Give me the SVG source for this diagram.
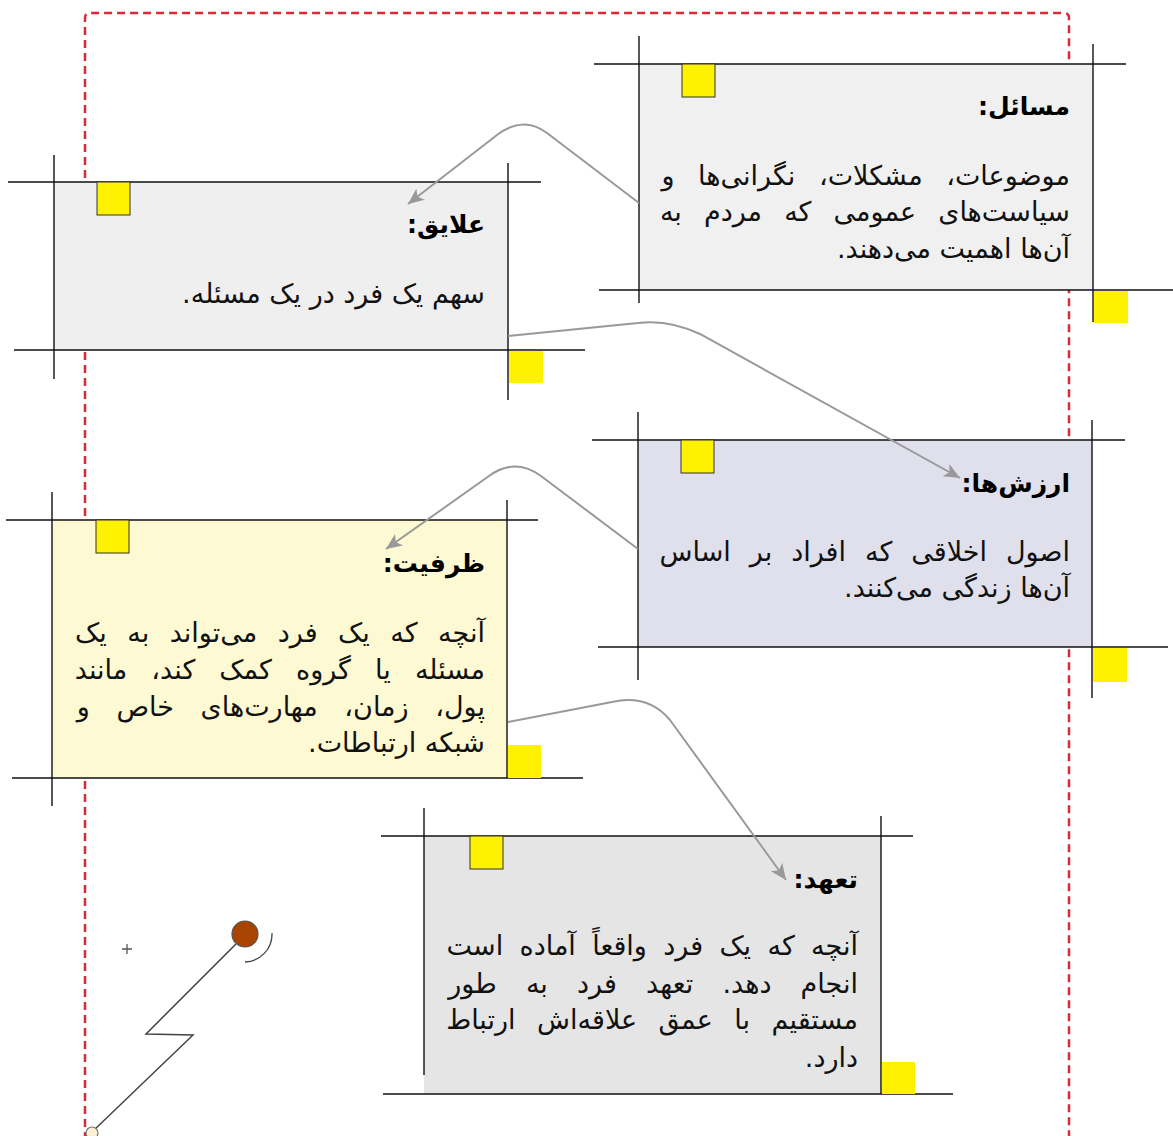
<svg xmlns="http://www.w3.org/2000/svg" width="1173" height="1136" viewBox="0 0 1173 1136">
<defs>
<style>
.border{fill:none;stroke:#d92b35;stroke-width:2.5;stroke-dasharray:8 5}
.grid{stroke:#111;stroke-width:1.4;fill:none}
.conn{fill:none;stroke:#999;stroke-width:2}
.tab{fill:#fff200;stroke:#333;stroke-width:1}
.sq{fill:#fff200}
.title{font-family:'DejaVu Sans',sans-serif;font-weight:bold;font-size:25px;fill:#000}
.body{font-family:'DejaVu Sans',sans-serif;font-size:27px;fill:#111}
</style>
<marker id="arr" markerUnits="userSpaceOnUse" markerWidth="20" markerHeight="16" refX="16" refY="7" orient="auto">
<path d="M0,0 L16,7 L0,14 L4,7 Z" fill="#999"/>
</marker>
</defs>
<rect width="1173" height="1136" fill="#fff"/>
<path class="border" d="M85,1140 L85,18 Q85,13 90,13 L1064,13 Q1069,13 1069,18 L1069,1140"/>

<g id="node-masael">
<rect x="639" y="64" width="454" height="226" fill="#f0f0f0"/>
<line class="grid" x1="594" y1="64" x2="1126" y2="64"/>
<line class="grid" x1="599" y1="290" x2="1173" y2="290"/>
<line class="grid" x1="639" y1="36" x2="639" y2="303"/>
<line class="grid" x1="1093" y1="44" x2="1093" y2="322"/>
<rect class="tab" x="682" y="64" width="33" height="33"/>
<rect class="sq" x="1094" y="291" width="34" height="32"/>
<text class="title" x="1070" y="115" direction="rtl" text-anchor="start">مسائل:</text>
<text class="body" x="1070" y="185" direction="rtl" text-anchor="start" style="word-spacing:15px">موضوعات، مشکلات، نگرانی‌ها و</text>
<text class="body" x="1070" y="221" direction="rtl" text-anchor="start" style="word-spacing:13.5px">سیاست‌های عمومی که مردم به</text>
<text class="body" x="1070" y="258" direction="rtl" text-anchor="start">آن‌ها اهمیت می‌دهند.</text>
</g>

<g id="node-alayegh">
<rect x="54" y="182" width="454" height="168" fill="#efefef"/>
<line class="grid" x1="8" y1="182" x2="541" y2="182"/>
<line class="grid" x1="14" y1="350" x2="585" y2="350"/>
<line class="grid" x1="54" y1="155" x2="54" y2="379"/>
<line class="grid" x1="508" y1="163" x2="508" y2="400"/>
<rect class="tab" x="97" y="182" width="33" height="33"/>
<rect class="sq" x="509" y="351" width="34" height="32"/>
<text class="title" x="485" y="233" direction="rtl" text-anchor="start">علایق:</text>
<text class="body" x="485" y="303" direction="rtl" text-anchor="start">سهم یک فرد در یک مسئله.</text>
</g>

<g id="node-arzesh">
<rect x="638" y="440" width="454" height="207" fill="#e0e0ec"/>
<line class="grid" x1="592" y1="440" x2="1125" y2="440"/>
<line class="grid" x1="598" y1="647" x2="1168" y2="647"/>
<line class="grid" x1="638" y1="412" x2="638" y2="680"/>
<line class="grid" x1="1092" y1="420" x2="1092" y2="698"/>
<rect class="tab" x="681" y="440" width="33" height="33"/>
<rect class="sq" x="1093" y="648" width="34" height="34"/>
<text class="title" x="1070" y="492" direction="rtl" text-anchor="start">ارزش‌ها:</text>
<text class="body" x="1070" y="561" direction="rtl" text-anchor="start" style="word-spacing:10.4px">اصول اخلاقی که افراد بر اساس</text>
<text class="body" x="1070" y="597" direction="rtl" text-anchor="start">آن‌ها زندگی می‌کنند.</text>
</g>

<g id="node-zarfiat">
<rect x="52" y="520" width="455" height="258" rx="6" fill="#fdf9d3"/>
<line class="grid" x1="6" y1="520" x2="538" y2="520"/>
<line class="grid" x1="12" y1="778" x2="583" y2="778"/>
<line class="grid" x1="52" y1="492" x2="52" y2="806"/>
<line class="grid" x1="507" y1="500" x2="507" y2="778"/>
<rect class="tab" x="96" y="520" width="33" height="33"/>
<rect class="sq" x="508" y="745" width="33" height="33"/>
<text class="title" x="485" y="572" direction="rtl" text-anchor="start">ظرفیت:</text>
<text class="body" x="485" y="642" direction="rtl" text-anchor="start" style="word-spacing:11.9px">آنچه که یک فرد می‌تواند به یک</text>
<text class="body" x="485" y="679" direction="rtl" text-anchor="start" style="word-spacing:15.5px">مسئله یا گروه کمک کند، مانند</text>
<text class="body" x="485" y="716" direction="rtl" text-anchor="start" style="word-spacing:18px">پول، زمان، مهارت‌های خاص و</text>
<text class="body" x="485" y="752" direction="rtl" text-anchor="start">شبکه ارتباطات.</text>
</g>

<g id="node-taahod">
<rect x="424" y="836" width="457" height="258" fill="#e5e5e5"/>
<line class="grid" x1="381" y1="836" x2="913" y2="836"/>
<line class="grid" x1="383" y1="1094" x2="953" y2="1094"/>
<line class="grid" x1="424" y1="808" x2="424" y2="1075"/>
<line class="grid" x1="881" y1="816" x2="881" y2="1094"/>
<rect class="tab" x="470" y="836" width="33" height="33"/>
<rect class="sq" x="882" y="1062" width="33" height="32"/>
<text class="title" x="858" y="888" direction="rtl" text-anchor="start">تعهد:</text>
<text class="body" x="858" y="955" direction="rtl" text-anchor="start" style="word-spacing:7.75px">آنچه که یک فرد واقعاً آماده است</text>
<text class="body" x="858" y="993" direction="rtl" text-anchor="start" style="word-spacing:20.6px">انجام دهد. تعهد فرد به طور</text>
<text class="body" x="858" y="1029" direction="rtl" text-anchor="start" style="word-spacing:12.9px">مستقیم با عمق علاقه‌اش ارتباط</text>
<text class="body" x="858" y="1067" direction="rtl" text-anchor="start">دارد.</text>
</g>

<g id="connectors">
<path class="conn" marker-end="url(#arr)" d="M639,203 L547,133 Q523,115 497,135 L408,204"/>
<path class="conn" marker-end="url(#arr)" d="M508,336 L638,323 Q668,319 700,334 L960,478"/>
<path class="conn" marker-end="url(#arr)" d="M638,549 L541,476 Q515,457 489,476 L386,549"/>
<path class="conn" marker-end="url(#arr)" d="M508,722 L612,702 Q648,694 670,720 L786,880"/>
</g>

<g id="decoration">
<path d="M122,949 H132 M127,944 V954" stroke="#555" stroke-width="1.3" fill="none"/>
<polyline points="236,944 146,1034 193,1035 93,1131" fill="none" stroke="#444" stroke-width="1.5"/>
<circle cx="245" cy="934" r="13" fill="#a94400" stroke="#555" stroke-width="1.2"/>
<path d="M272,933 A28,28 0 0 1 245,962" fill="none" stroke="#444" stroke-width="1.3"/>
<circle cx="92" cy="1133" r="6" fill="#fdf0d3" stroke="#777" stroke-width="1.2"/>
</g>
</svg>
